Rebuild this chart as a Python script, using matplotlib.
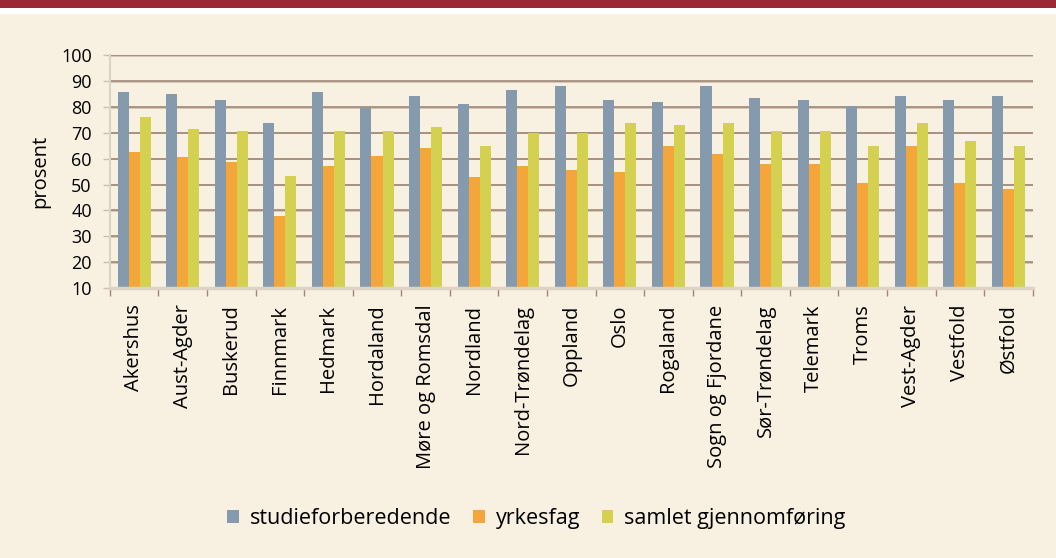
import matplotlib
matplotlib.use("Agg")
import matplotlib.pyplot as plt
import numpy as np
from matplotlib.patches import Rectangle

categories = ["Akershus", "Aust-Agder", "Buskerud", "Finnmark", "Hedmark", "Hordaland",
              "Møre og Romsdal", "Nordland", "Nord-Trøndelag", "Oppland", "Oslo", "Rogaland",
              "Sogn og Fjordane", "Sør-Trøndelag", "Telemark", "Troms", "Vest-Agder",
              "Vestfold", "Østfold"]
studieforberedende = [85.9, 85.0, 82.6, 73.8, 85.9, 79.6, 84.2, 81.1, 86.5, 88.0, 82.6, 81.9,
                      88.0, 83.4, 82.6, 80.3, 84.2, 82.6, 84.2]
yrkesfag = [62.7, 60.5, 58.7, 38.0, 57.2, 61.1, 64.1, 53.0, 57.2, 55.7, 54.9, 64.9,
            61.8, 58.0, 58.0, 50.6, 64.9, 50.6, 48.3]
samlet = [76.1, 71.5, 70.8, 53.1, 70.8, 70.7, 72.2, 64.9, 69.9, 69.9, 73.8, 73.0,
          73.8, 70.7, 70.7, 64.9, 73.8, 66.8, 64.9]
series_names = ["studieforberedende", "yrkesfag", "samlet gjennomføring"]
yticks = [10, 20, 30, 40, 50, 60, 70, 80, 90, 100]

colors = ["#869aad", "#f4a63a", "#d3d14f"]
bg = "#f8f0e1"

plt.rcParams['font.family'] = ['Open Sans', 'DejaVu Sans']

fig = plt.figure(figsize=(10.56, 5.58), dpi=100)
fig.patch.set_facecolor(bg)
# top band
fig.patches.append(Rectangle((0, 1 - 8/558), 1, 8/558, transform=fig.transFigure,
                             facecolor="#9b2835", edgecolor="none", zorder=0))
fig.patches.append(Rectangle((0, 1 - 14/558), 1, 6/558, transform=fig.transFigure,
                             facecolor="white", edgecolor="none", zorder=0))

ax = fig.add_axes([0.104, 0.484, 0.874, 0.417])
ax.set_facecolor(bg)

x = np.arange(len(categories))
w = 0.227
for i, (vals, c) in enumerate(zip([studieforberedende, yrkesfag, samlet], colors)):
    ax.bar(x + (i - 1) * w, np.array(vals) - 10, bottom=10, width=w, color=c,
           label=series_names[i], zorder=3)

ax.set_ylim(10, 100)
ax.set_xlim(-0.5, len(categories) - 0.5)
ax.set_yticks(yticks)
ax.set_yticklabels([str(t) for t in yticks], fontsize=13)
for t in yticks[1:]:
    ax.axhline(t - 0.25, color="#cdbfae", lw=1.2, zorder=1)
    ax.axhline(t, color="#a08878", lw=1.2, zorder=1)

ax.set_xticks(x)
ax.set_xticklabels(categories, rotation=90, fontsize=14.5)
ax.tick_params(axis="x", length=0, pad=12)
ax.set_xticks(np.arange(-0.5, len(categories), 1), minor=True)
ax.tick_params(axis="x", which="minor", length=6, color="#a08878", width=1)
ax.tick_params(axis="y", length=5, color="#cdbfae", width=1, pad=8)

for s in ["top", "right"]:
    ax.spines[s].set_visible(False)
ax.spines["left"].set_color("#ddd3c3")
ax.spines["left"].set_linewidth(1.5)
ax.spines["bottom"].set_color("#ddd3c3")
ax.spines["bottom"].set_linewidth(2.5)
ax.spines["bottom"].set_zorder(4)

ax.set_ylabel("prosent", fontsize=14.5, labelpad=8)

handles, labels = ax.get_legend_handles_labels()
fig.legend(handles, labels, loc="center", bbox_to_anchor=(0.508, 0.071), ncol=3,
           frameon=False, fontsize=15.5, handlelength=0.55, handleheight=0.55,
           handletextpad=0.5, columnspacing=1.0)

fig.savefig("out.png", dpi=100, facecolor=bg)
